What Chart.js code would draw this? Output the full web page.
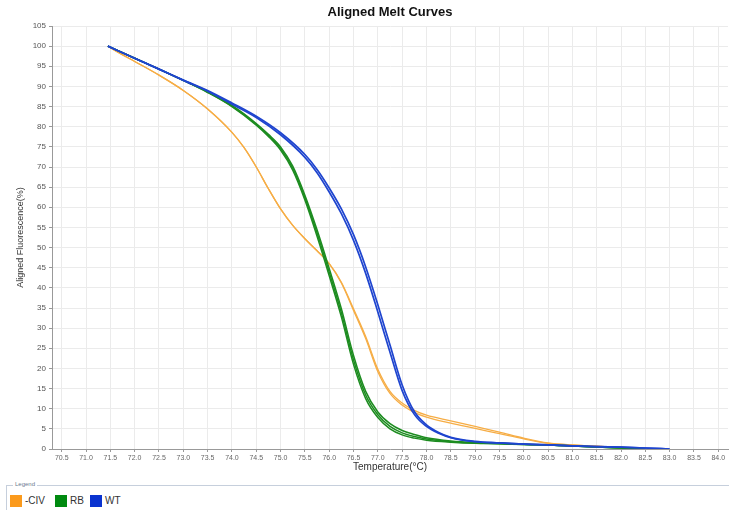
<!DOCTYPE html>
<html>
<head>
<meta charset="utf-8">
<script src="https://cdn.jsdelivr.net/npm/chart.js@4"></script>
<style>
  body { margin: 0; background: #fff; font-family: "Liberation Sans", Arial, sans-serif; }
  #wrap { position: relative; width: 733px; height: 478px; }
  #legendBox {
    position: absolute; left: 6px; top: 485px; width: 722px; height: 30px;
    border-top: 1px solid #c6cfdc; border-left: 1px solid #c6cfdc;
  }
  #legendBox .cap { position: absolute; left: 6px; top: -5px; font-size: 6px; color: #6a7a90; background: #fff; padding: 0 2px; }
  #legendBox .item { position: absolute; top: 9px; font-size: 10px; color: #333; line-height: 12px; }
  #legendBox .sw { display: inline-block; width: 12px; height: 12px; vertical-align: top; margin-right: 3px; }
</style>
</head>
<body>
<div id="wrap"><canvas id="meltChart" width="733" height="478"></canvas></div>
<div id="legendBox">
  <span class="cap">Legend</span>
  <span class="item" style="left:3px"><span class="sw" style="background:#fb9a1c"></span>-CIV</span>
  <span class="item" style="left:48px"><span class="sw" style="background:#008a10"></span>RB</span>
  <span class="item" style="left:83px"><span class="sw" style="background:#0a33d0"></span>WT</span>
</div>
<script>
// Temperatures (°C) and aligned fluorescence (%)
const tempCIV = [71.45, 71.7, 72.0, 72.5, 73.0, 73.5, 74.0, 74.25, 74.5, 74.75, 75.0, 75.25, 75.5, 75.75, 76.0, 76.25, 76.5, 76.75, 77.0, 77.25, 77.5, 77.75, 78.0, 78.5, 79.0, 79.5, 80.0, 80.5, 81.0, 81.5, 82.0, 82.5];
const civA = [100, 98.2, 96.2, 92.8, 89.0, 84.4, 78.6, 74.8, 70, 64.6, 59.6, 55.5, 52.2, 49.2, 46.0, 41.2, 34.4, 27.4, 19.2, 13.8, 10.9, 9.1, 7.9, 6.4, 5.1, 3.8, 2.5, 1.4, 1.0, 0.7, 0.4, 0];
const civB = [100, 98.2, 96.2, 92.8, 89.0, 84.4, 78.6, 74.8, 70, 64.6, 59.6, 55.5, 52.2, 49.2, 46.0, 41.4, 34.8, 27.9, 19.8, 14.3, 11.4, 9.6, 8.4, 7.0, 5.6, 4.2, 2.7, 1.5, 1.0, 0.7, 0.4, 0];

const tempRB = [71.45, 72.0, 72.5, 73.0, 73.5, 74.0, 74.5, 74.75, 75.0, 75.25, 75.5, 75.75, 76.0, 76.25, 76.5, 76.75, 77.0, 77.25, 77.5, 77.75, 78.0, 78.5, 79.0, 79.5, 80.0, 80.5, 81.0, 81.5, 82.0, 82.5];
const rbA = [100, 97, 94.3, 91.5, 88.5, 85, 80.4, 77.6, 74.2, 69.2, 61.8, 52.8, 43, 32.8, 21, 12.5, 7.8, 5.0, 3.5, 2.7, 2.2, 1.7, 1.4, 1.3, 1.1, 1.0, 0.75, 0.5, 0.25, 0];
const rbB = [100, 97, 94.3, 91.5, 88.7, 85.3, 80.8, 78.1, 75.0, 70.2, 63.0, 54.4, 44.8, 34.8, 23.2, 14.3, 9.2, 6.3, 4.6, 3.6, 2.8, 2.0, 1.6, 1.4, 1.2, 1.0, 0.75, 0.5, 0.25, 0];
const rbC = [100, 97, 94.3, 91.5, 88.6, 85.1, 80.6, 77.8, 74.6, 69.7, 62.4, 53.6, 43.9, 33.8, 22.1, 13.4, 8.5, 5.6, 4.0, 3.1, 2.5, 1.8, 1.5, 1.3, 1.1, 1.0, 0.75, 0.5, 0.25, 0];

const tempWT = [71.45, 72.0, 72.5, 73.0, 73.5, 74.0, 74.5, 75.0, 75.5, 75.75, 76.0, 76.25, 76.5, 76.75, 77.0, 77.25, 77.5, 77.75, 78.0, 78.25, 78.5, 79.0, 79.5, 80.0, 80.5, 81.0, 81.5, 82.0, 82.5, 83.0];
const wtA = [100, 97, 94.3, 91.5, 88.8, 85.6, 82.3, 78, 72.4, 68.6, 63.8, 58.4, 51.8, 43.6, 34, 24, 14.5, 8.6, 5.6, 3.9, 2.8, 1.8, 1.5, 1.2, 1.0, 0.8, 0.6, 0.45, 0.25, 0];
const wtB = [100, 97, 94.3, 91.6, 89, 85.9, 82.6, 78.5, 73.1, 69.4, 64.8, 59.6, 53.2, 45.2, 35.8, 25.8, 15.9, 9.3, 6.0, 4.1, 2.9, 1.9, 1.5, 1.2, 1.0, 0.8, 0.6, 0.45, 0.25, 0];

const yTicks = [0, 5, 10, 15, 20, 25, 30, 35, 40, 45, 50, 55, 60, 65, 70, 75, 80, 85, 90, 95, 100, 105];

function pts(temps, vals) {
    return temps.map((t, i) => ({ x: t, y: vals[i] }));
}

function curve(label, temps, vals, color, width) {
    return {
        label: label,
        data: pts(temps, vals),
        borderColor: color,
        borderWidth: width,
        pointRadius: 0,
        fill: false,
        cubicInterpolationMode: 'monotone'
    };
}

// title centred over the plot area, like the instrument export
const plotTitle = {
    id: 'plotTitle',
    afterDraw(chart) {
        const c = chart.ctx;
        const a = chart.chartArea;
        c.save();
        c.font = 'bold 13px "Liberation Sans", Arial, sans-serif';
        c.fillStyle = '#111';
        c.textAlign = 'center';
        c.textBaseline = 'middle';
        c.fillText('Aligned Melt Curves', (a.left + a.right) / 2, 12);
        c.restore();
    }
};

const ctx = document.getElementById('meltChart').getContext('2d');
// dataset 0 is painted last, so WT sits on top like the original
new Chart(ctx, {
    type: 'line',
    data: {
        datasets: [
            curve('WT', tempWT, wtA, '#1f45cf', 1.7),
            curve('WT', tempWT, wtB, '#1f45cf', 1.7),
            curve('RB', tempRB, rbA, '#1d8c20', 1.5),
            curve('RB', tempRB, rbB, '#1d8c20', 1.5),
            curve('RB', tempRB, rbC, '#1d8c20', 1.5),
            curve('-CIV', tempCIV, civA, '#f6ad45', 1.3),
            curve('-CIV', tempCIV, civB, '#f6ad45', 1.3)
        ]
    },
    options: {
        responsive: false,
        animation: false,
        layout: { padding: { top: 26, right: 5, left: 0, bottom: 0 } },
        plugins: {
            legend: { display: false },
            tooltip: { enabled: false }
        },
        scales: {
            x: {
                type: 'linear',
                min: 70.3,
                max: 84.2,
                afterBuildTicks: function(scale) {
                    const t = [];
                    for (let v = 705; v <= 840; v += 5) t.push({ value: v / 10 });
                    scale.ticks = t;
                },
                afterFit: function(scale) { scale.height = 29; },
                ticks: {
                    autoSkip: false,
                    maxRotation: 0,
                    padding: 2,
                    color: '#666',
                    font: { size: 7, family: '"Liberation Sans", Arial, sans-serif' },
                    callback: function(value) { return Number(value).toFixed(1); }
                },
                grid: { color: '#ebebeb', tickLength: 3, tickColor: '#999' },
                border: { color: '#999' },
                title: {
                    display: true,
                    text: 'Temperature(°C)',
                    color: '#333',
                    padding: { top: 0, bottom: 5 },
                    font: { size: 10, family: '"Liberation Sans", Arial, sans-serif' }
                }
            },
            y: {
                min: 0,
                max: 105,
                afterBuildTicks: function(scale) {
                    scale.ticks = yTicks.map(v => ({ value: v }));
                },
                afterFit: function(scale) { scale.width = 52; },
                ticks: {
                    autoSkip: false,
                    padding: 3,
                    color: '#555',
                    font: { size: 8, family: '"Liberation Sans", Arial, sans-serif' }
                },
                grid: { color: '#ebebeb', tickLength: 3, tickColor: '#999' },
                border: { color: '#999' },
                title: {
                    display: true,
                    text: 'Aligned Fluorescence(%)',
                    color: '#333',
                    padding: { top: 15, bottom: 0 },
                    font: { size: 9, family: '"Liberation Sans", Arial, sans-serif' }
                }
            }
        }
    },
    plugins: [plotTitle]
});
</script>
</body>
</html>
